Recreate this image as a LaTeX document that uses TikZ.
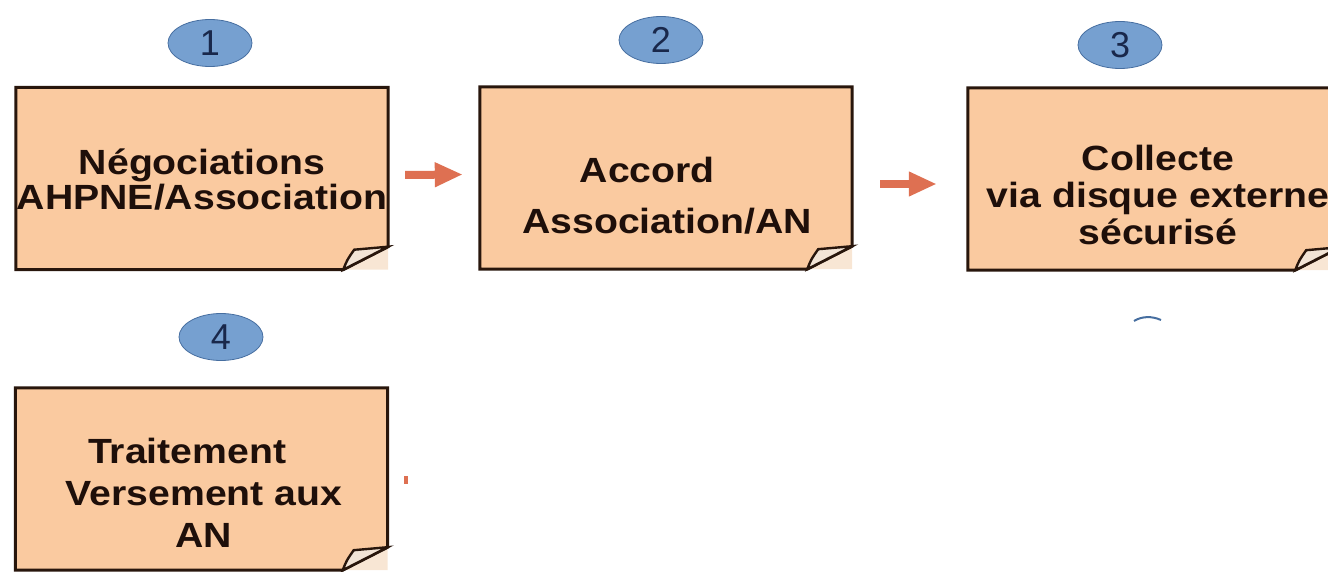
\documentclass[tikz,border=0pt]{standalone}
\usepackage{fontspec}
\setmainfont{Liberation Sans}
\usetikzlibrary{shapes.geometric,arrows.meta}
\definecolor{peach}{RGB}{250,202,160}
\definecolor{cornerpale}{RGB}{248,230,212}
\definecolor{flap}{RGB}{242,228,214}
\definecolor{cardedge}{RGB}{40,22,12}
\definecolor{ink}{RGB}{30,15,10}
\definecolor{numblue}{RGB}{118,160,208}
\definecolor{numedge}{RGB}{70,110,160}
\definecolor{numink}{RGB}{25,40,75}
\definecolor{arrowred}{RGB}{222,112,82}
\begin{document}
\begin{tikzpicture}[x=1pt,y=-1pt]

    \tikzset{
      card/.style={
        inner sep=0pt,
        minimum width=372pt,
        minimum height=182pt,
      },
      cardline/.style={draw=cardedge,line width=3pt,line join=miter},
      cardtext/.style={
        font=\bfseries\fontsize{35}{37}\selectfont,
        text=ink,
        align=center,
        inner sep=0pt,
        xscale=1.12,
      },
      num/.style={
        ellipse,
        fill=numblue,
        draw=numedge,
        line width=0.8pt,
        inner sep=0pt,
        minimum width=84pt,
        minimum height=47pt,
        font=\fontsize{36}{36}\selectfont,
        text=numink,
      },
      flow/.style={-{Triangle[length=28pt,width=23pt]},line width=8pt,draw=arrowred},
    }
    \useasboundingbox (0,0) rectangle (1328,572);
    \clip (0,0) rectangle (1328,572);

    % sticky cards
    \node[card] (b1) at (202,178.5) {};
    \node[card] (b2) at (666,178) {};
    \node[card] (b3) at (1154,179) {};
    \node[card] (b4) at (201.5,479) {};
    \foreach \b in {b1,b2,b3,b4}{
      \fill[cornerpale] ([xshift=-45pt]\b.south east) -- (\b.south east) -- ([yshift=23pt]\b.south east) -- cycle;
      \draw[cardline,fill=peach] (\b.north west) -- (\b.north east) -- ([yshift=23pt]\b.south east)
        -- ([xshift=-45pt]\b.south east) -- (\b.south west) -- cycle;
      \draw[cardline,line width=2.4pt,fill=flap] ([xshift=-45pt]\b.south east)
        .. controls ([xshift=-41pt,yshift=10pt]\b.south east) .. ([xshift=-34pt,yshift=20pt]\b.south east)
        -- ([yshift=23pt]\b.south east) -- cycle;
    }

    \node[cardtext] (t1) at (202,179.5) {N\'egociations\\[-2pt]AHPNE/Association};
    \node[cardtext] (t2) at (667,195.5) {Accord\hspace*{35pt}\\[14pt]Association/AN};
    \node[cardtext] (t3) at (1158,195) {Collecte\\[0.5pt]via disque externe\\[0pt]s\'ecuris\'e};
    \node[cardtext] (t4) at (204,492.5) {Traitement\hspace*{30pt}\\[5pt]Versement aux\hspace*{30pt}\\[5pt]AN};

    % step numbers
    \node[num] (n1) at (210,43) {1};
    \node[num] (n2) at (661,40) {2};
    \node[num] (n3) at (1120,45) {3};
    \node[num] (n4) at (221,337) {4};

    \draw[flow] ([xshift=17pt,yshift=3.5pt]b1.east) -- ([xshift=-17pt,yshift=3.5pt]b2.west);
    \draw[flow] ([xshift=28pt,yshift=-6pt]b2.east) -- ([xshift=-31pt,yshift=-5pt]b3.west);

    % leftovers
    \draw[numedge,line width=2pt] (1134,321) .. controls (1142,316) and (1152,316) .. (1161,320);
    \fill[arrowred] (404,476) rectangle (408,484);

\end{tikzpicture}
\end{document}
